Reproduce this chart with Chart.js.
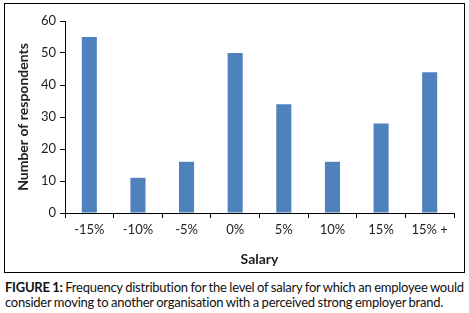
<!DOCTYPE html>
<html>
<head>
<meta charset="utf-8">
<script src="https://cdn.jsdelivr.net/npm/chart.js@4"></script>
<style>
  body { margin: 0; background: #fff; font-family: Lato, "Open Sans", sans-serif; }
  #frame { position: absolute; left: 4px; top: 3px; width: 459px; height: 268px; border: 1px solid #000; }
  #caption { position: absolute; left: 5px; top: 280px; font-size: 13px; line-height: 15px; color: #111; letter-spacing: -0.24px; word-spacing: -0.4px; white-space: nowrap; }
  #caption b { font-weight: bold; }
</style>
</head>
<body>
<div id="frame"><canvas id="chart" width="459" height="268"></canvas></div>
<div id="caption"><b>FIGURE 1:</b> Frequency distribution for the level of salary for which an employee would<br>consider moving to another organisation with a perceived strong employer brand.</div>
<script>
  // Data
  const salaryLevels = ["-15%", "-10%", "-5%", "0%", "5%", "10%", "15%", "15% +"];
  const respondents = [55, 11, 16, 50, 34, 16, 28, 44];
  const yTicks = [0, 10, 20, 30, 40, 50, 60];

  const font = { family: "Lato, 'Open Sans', sans-serif", size: 13 };

  new Chart(document.getElementById("chart"), {
    type: "bar",
    data: {
      labels: salaryLevels,
      datasets: [{
        data: respondents,
        backgroundColor: "#4f81bd",
        barPercentage: 0.31,
        categoryPercentage: 1
      }]
    },
    options: {
      responsive: false,
      animation: false,
      layout: { padding: { top: 17, right: 10, left: 0, bottom: 0 } },
      plugins: { legend: { display: false }, tooltip: { enabled: false } },
      scales: {
        x: {
          offset: true,
          grid: { offset: true, drawOnChartArea: false, drawTicks: true, tickLength: 5, color: "#000" },
          border: { color: "#000", width: 1 },
          ticks: { color: "#222", font, padding: 4 },
          title: { display: true, text: "Salary", color: "#222", font: { ...font, size: 14, weight: "bold" }, padding: { top: 6 } },
          afterFit: (s) => { s.height = 59; }
        },
        y: {
          min: 0,
          max: 60,
          afterBuildTicks: (s) => { s.ticks = yTicks.map(v => ({ value: v })); },
          grid: { drawOnChartArea: false, drawTicks: true, tickLength: 5, color: "#000" },
          border: { color: "#000", width: 1 },
          ticks: { color: "#222", font, padding: 4 },
          title: { display: true, text: "Number of respondents", color: "#222", font: { ...font, size: 14, weight: "bold" }, padding: { top: 10, bottom: 0 } },
          afterFit: (s) => { s.width = 60; }
        }
      }
    }
  });
</script>
</body>
</html>
